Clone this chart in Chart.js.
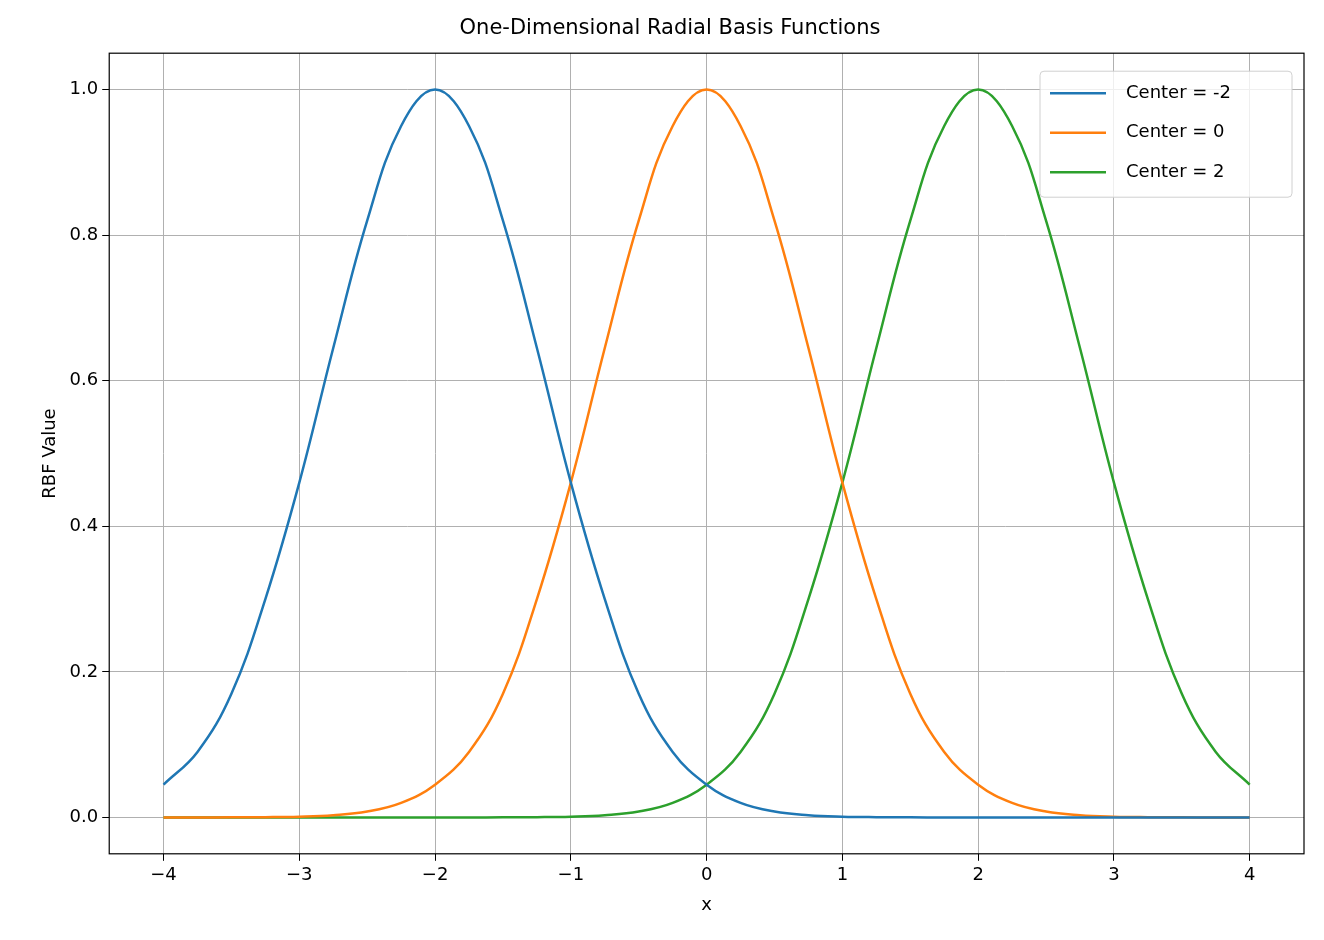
<!DOCTYPE html>
<html>
<head>
<meta charset="UTF-8">
<title>RBF</title>
<script src="https://cdn.jsdelivr.net/npm/chart.js"></script>
<style>body{margin:0;background:#fff}#wrap{width:1324px;height:940px}</style>
</head>
<body>
<div id="wrap"><canvas id="c"></canvas></div>
<script>
// x positions sampled along the axis
const xs = [-4,-3.75,-3.5,-3.25,-3,-2.75,-2.5,-2.25,-2,-1.75,-1.5,-1.25,-1,-0.75,-0.5,-0.25,0,
            0.25,0.5,0.75,1,1.25,1.5,1.75,2,2.25,2.5,2.75,3,3.25,3.5,3.75,4];
const seriesNames = ['Center = -2', 'Center = 0', 'Center = 2'];
const centerM2 = [0.045,0.09,0.17,0.30,0.46,0.645,0.82,0.95,1,0.95,0.82,0.645,0.46,0.30,0.17,0.09,0.045,
                  0.02,0.008,0.003,0.001,0.0003,0.0001,0,0,0,0,0,0,0,0,0,0];
const center0 = [0,0,0.0001,0.0003,0.001,0.003,0.008,0.02,0.045,0.09,0.17,0.30,0.46,0.645,0.82,0.95,1,
                 0.95,0.82,0.645,0.46,0.30,0.17,0.09,0.045,0.02,0.008,0.003,0.001,0.0003,0.0001,0,0];
const centerP2 = [0,0,0,0,0,0,0,0,0,0,0.0001,0.0003,0.001,0.003,0.008,0.02,0.045,
                  0.09,0.17,0.30,0.46,0.645,0.82,0.95,1,0.95,0.82,0.645,0.46,0.30,0.17,0.09,0.045];
const colors = ['#1f77b4', '#ff7f0e', '#2ca02c'];

const pts = arr => arr.map((v, i) => ({x: xs[i], y: v}));
const font = size => ({family: 'DejaVu Sans', size: size});

// frame + legend inside the plot area, matplotlib style
const extras = {
  id: 'extras',
  afterDraw(chart) {
    const {ctx, chartArea: a} = chart;
    ctx.save();
    ctx.strokeStyle = '#000'; ctx.lineWidth = 1.2;
    ctx.strokeRect(a.left, a.top, a.right - a.left, a.bottom - a.top);
    const w = 252, h = 126, x0 = a.right - w - 12, y0 = a.top + 18;
    ctx.fillStyle = 'rgba(255,255,255,0.8)';
    ctx.strokeStyle = '#d0d0d0'; ctx.lineWidth = 1;
    ctx.beginPath(); ctx.roundRect(x0, y0, w, h, 4); ctx.fill(); ctx.stroke();
    ctx.font = '18px "DejaVu Sans"'; ctx.textBaseline = 'middle';
    chart.data.datasets.forEach((d, i) => {
      const y = y0 + 22 + i * 39.5;
      ctx.strokeStyle = d.borderColor; ctx.lineWidth = 2.5;
      ctx.beginPath(); ctx.moveTo(x0 + 10, y); ctx.lineTo(x0 + 66, y); ctx.stroke();
      ctx.fillStyle = '#000'; ctx.fillText(d.label, x0 + 86, y);
    });
    ctx.restore();
  }
};

new Chart(document.getElementById('c'), {
  type: 'line',
  data: {
    datasets: [centerM2, center0, centerP2].map((arr, i) => ({
      label: seriesNames[i], data: pts(arr), borderColor: colors[i],
      borderWidth: 2.5, pointRadius: 0, tension: 0.4, fill: false
    }))
  },
  options: {
    responsive: true, maintainAspectRatio: false, animation: false,
    layout: {padding: {left: 36, right: 20, top: 0, bottom: 20}},
    plugins: {
      legend: {display: false}, tooltip: {enabled: false},
      title: {display: true, text: 'One-Dimensional Radial Basis Functions', color: '#000',
              font: {family: 'DejaVu Sans', size: 21, weight: 'normal'}, padding: {top: 16, bottom: 12}}
    },
    scales: {
      x: {
        type: 'linear', min: -4.4, max: 4.4,
        afterBuildTicks: ax => { ax.ticks = [-4,-3,-2,-1,0,1,2,3,4].map(v => ({value: v})); },
        ticks: {color: '#000', font: font(18), padding: 4,
                callback: v => String(v).replace('-', '\u2212')},
        grid: {color: '#b0b0b0', tickColor: '#000', tickLength: 7},
        border: {display: false},
        title: {display: true, text: 'x', color: '#000', font: font(18)}
      },
      y: {
        min: -0.05, max: 1.05,
        afterBuildTicks: ax => { ax.ticks = [0,0.2,0.4,0.6,0.8,1].map(v => ({value: v})); },
        ticks: {color: '#000', font: font(18), padding: 4, callback: v => v.toFixed(1)},
        grid: {color: '#b0b0b0', tickColor: '#000', tickLength: 7},
        border: {display: false},
        title: {display: true, text: 'RBF Value', color: '#000', font: font(18)}
      }
    }
  },
  plugins: [extras]
});
</script>
</body>
</html>
